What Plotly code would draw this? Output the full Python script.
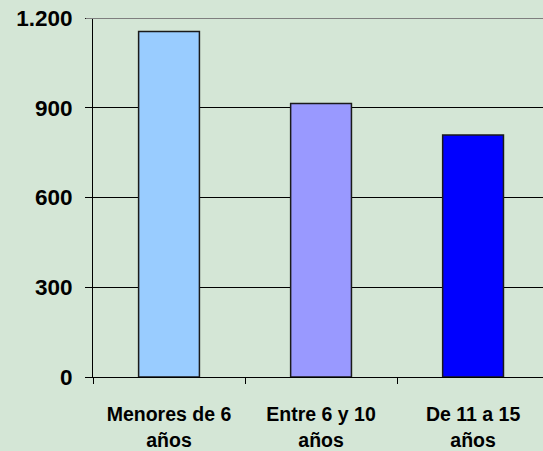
import plotly.graph_objects as go

categories = ["Menores de 6<br>años", "Entre 6 y 10<br>años", "De 11 a 15<br>años"]
values = [1155, 914, 809]
bar_colors = ["#99CCFF", "#9999FF", "#0000FF"]
y_ticks = [0, 300, 600, 900, 1200]
y_tick_labels = ["0", "300", "600", "900", "1.200"]

bg = "#D4E6D6"

fig = go.Figure(
    go.Bar(
        x=categories,
        y=values,
        width=0.4,
        marker=dict(color=bar_colors, line=dict(color="#1a1a1a", width=1.5)),
        hoverinfo="skip",
    )
)

fig.update_layout(
    width=543,
    height=451,
    paper_bgcolor=bg,
    plot_bgcolor=bg,
    margin=dict(l=93, r=0, t=18, b=72),
    showlegend=False,
    shapes=[
        dict(
            type="line", xref="paper", yref="y",
            x0=-0.016, x1=1, y0=y_ticks[-1], y1=y_ticks[-1],
            line=dict(color="#7f7f7f", width=2),
        )
    ],
)

fig.update_xaxes(
    type="category",
    range=[-0.5, 2.46],
    showline=True,
    linecolor="black",
    linewidth=1,
    ticks="outside",
    tickson="boundaries",
    ticklen=6,
    tickcolor="black",
    showgrid=False,
    tickfont=dict(family="Liberation Sans, Arial", size=19.5, color="black", weight="bold"),
    ticklabelstandoff=20,
)

fig.update_yaxes(
    range=[0, 1200],
    tickvals=y_ticks,
    ticktext=y_tick_labels,
    showgrid=True,
    gridcolor="black",
    gridwidth=1,
    showline=True,
    linecolor="black",
    linewidth=1,
    ticks="outside",
    ticklen=7,
    tickcolor="black",
    zeroline=False,
    tickfont=dict(family="Liberation Sans, Arial", size=22.5, color="black", weight="bold"),
    ticklabelstandoff=8,
)

fig.write_html(
    "out.html",
    config={"displayModeBar": False},
    post_script="document.body.style.margin='0';document.body.style.padding='0';",
)
